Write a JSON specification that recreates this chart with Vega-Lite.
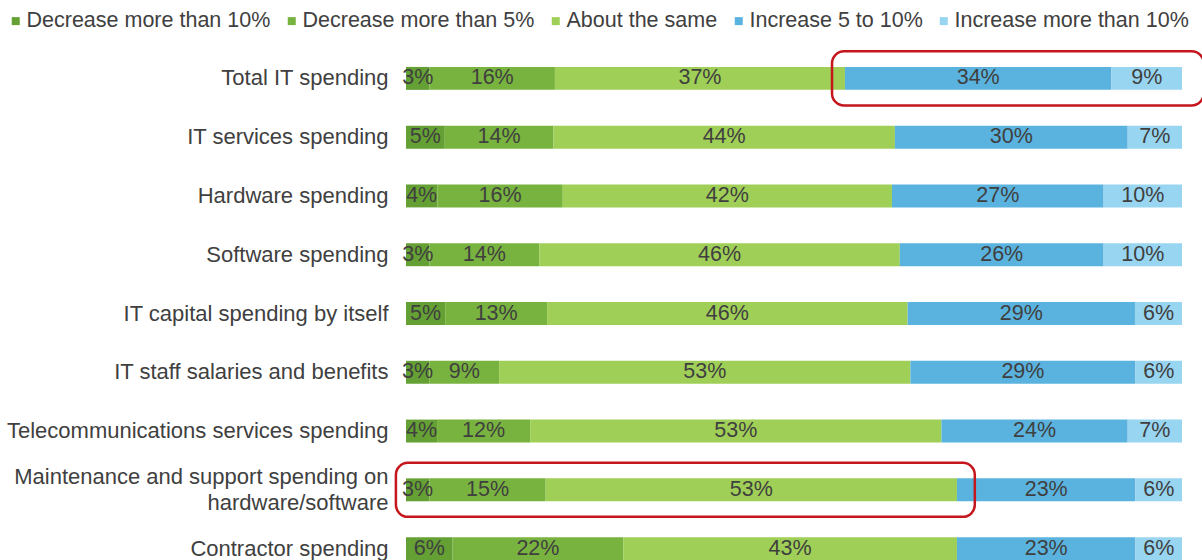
{
  "$schema": "https://vega.github.io/schema/vega-lite/v6.json",
  "width": 776,
  "height": 529,
  "autosize": {"type": "none"},
  "padding": {"left": 406, "top": 49, "right": 20, "bottom": 0},
  "background": "white",
  "config": {"view": {"stroke": null}, "font": "Liberation Sans"},
  "layer": [
    {
      "data": {
        "values": [
          {"c": "Total IT spending", "s": "Decrease more than 10%", "v": 3},
          {"c": "Total IT spending", "s": "Decrease more than 5%", "v": 16},
          {"c": "Total IT spending", "s": "About the same", "v": 37},
          {"c": "Total IT spending", "s": "Increase 5 to 10%", "v": 34},
          {"c": "Total IT spending", "s": "Increase more than 10%", "v": 9},
          {"c": "IT services spending", "s": "Decrease more than 10%", "v": 5},
          {"c": "IT services spending", "s": "Decrease more than 5%", "v": 14},
          {"c": "IT services spending", "s": "About the same", "v": 44},
          {"c": "IT services spending", "s": "Increase 5 to 10%", "v": 30},
          {"c": "IT services spending", "s": "Increase more than 10%", "v": 7},
          {"c": "Hardware spending", "s": "Decrease more than 10%", "v": 4},
          {"c": "Hardware spending", "s": "Decrease more than 5%", "v": 16},
          {"c": "Hardware spending", "s": "About the same", "v": 42},
          {"c": "Hardware spending", "s": "Increase 5 to 10%", "v": 27},
          {"c": "Hardware spending", "s": "Increase more than 10%", "v": 10},
          {"c": "Software spending", "s": "Decrease more than 10%", "v": 3},
          {"c": "Software spending", "s": "Decrease more than 5%", "v": 14},
          {"c": "Software spending", "s": "About the same", "v": 46},
          {"c": "Software spending", "s": "Increase 5 to 10%", "v": 26},
          {"c": "Software spending", "s": "Increase more than 10%", "v": 10},
          {"c": "IT capital spending by itself", "s": "Decrease more than 10%", "v": 5},
          {"c": "IT capital spending by itself", "s": "Decrease more than 5%", "v": 13},
          {"c": "IT capital spending by itself", "s": "About the same", "v": 46},
          {"c": "IT capital spending by itself", "s": "Increase 5 to 10%", "v": 29},
          {"c": "IT capital spending by itself", "s": "Increase more than 10%", "v": 6},
          {"c": "IT staff salaries and benefits", "s": "Decrease more than 10%", "v": 3},
          {"c": "IT staff salaries and benefits", "s": "Decrease more than 5%", "v": 9},
          {"c": "IT staff salaries and benefits", "s": "About the same", "v": 53},
          {"c": "IT staff salaries and benefits", "s": "Increase 5 to 10%", "v": 29},
          {"c": "IT staff salaries and benefits", "s": "Increase more than 10%", "v": 6},
          {"c": "Telecommunications services spending", "s": "Decrease more than 10%", "v": 4},
          {"c": "Telecommunications services spending", "s": "Decrease more than 5%", "v": 12},
          {"c": "Telecommunications services spending", "s": "About the same", "v": 53},
          {"c": "Telecommunications services spending", "s": "Increase 5 to 10%", "v": 24},
          {"c": "Telecommunications services spending", "s": "Increase more than 10%", "v": 7},
          {"c": "Maintenance and support spending on hardware/software", "s": "Decrease more than 10%", "v": 3},
          {"c": "Maintenance and support spending on hardware/software", "s": "Decrease more than 5%", "v": 15},
          {"c": "Maintenance and support spending on hardware/software", "s": "About the same", "v": 53},
          {"c": "Maintenance and support spending on hardware/software", "s": "Increase 5 to 10%", "v": 23},
          {"c": "Maintenance and support spending on hardware/software", "s": "Increase more than 10%", "v": 6},
          {"c": "Contractor spending", "s": "Decrease more than 10%", "v": 6},
          {"c": "Contractor spending", "s": "Decrease more than 5%", "v": 22},
          {"c": "Contractor spending", "s": "About the same", "v": 43},
          {"c": "Contractor spending", "s": "Increase 5 to 10%", "v": 23},
          {"c": "Contractor spending", "s": "Increase more than 10%", "v": 6}
        ]
      },
      "transform": [
        {"calculate": "indexof(['Decrease more than 10%','Decrease more than 5%','About the same','Increase 5 to 10%','Increase more than 10%'], datum.s)", "as": "o"},
        {"stack": "v", "groupby": ["c"], "sort": [{"field": "o", "order": "ascending"}], "offset": "normalize", "as": ["x0", "x1"]},
        {"calculate": "(datum.x0 + datum.x1) / 2", "as": "xm"},
        {"calculate": "datum.v + '%'", "as": "lbl"}
      ],
      "layer": [
        {
          "mark": {"type": "bar", "height": {"band": 0.39}},
          "encoding": {
            "y": {
              "field": "c", "type": "nominal",
              "scale": {"domain": ["Total IT spending", "IT services spending", "Hardware spending", "Software spending", "IT capital spending by itself", "IT staff salaries and benefits", "Telecommunications services spending", "Maintenance and support spending on hardware/software", "Contractor spending"], "paddingInner": 0, "paddingOuter": 0},
              "axis": {
                "title": null, "domain": false, "ticks": false, "labelPadding": 18,
                "labelFontSize": 22, "labelColor": "#404040", "labelLimit": 500, "labelLineHeight": 26,
                "labelOffset": {"condition": {"test": "datum.value == 'Maintenance and support spending on hardware/software'", "value": -13}, "value": 0},
                "labelExpr": "datum.label == 'Maintenance and support spending on hardware/software' ? ['Maintenance and support spending on', 'hardware/software'] : datum.label"
              }
            },
            "x": {"field": "x0", "type": "quantitative", "scale": {"domain": [0, 1]}, "axis": null},
            "x2": {"field": "x1"},
            "color": {
              "field": "s", "type": "nominal",
              "scale": {
                "domain": ["Decrease more than 10%", "Decrease more than 5%", "About the same", "Increase 5 to 10%", "Increase more than 10%"],
                "range": ["#64a033", "#79b33f", "#9fcf57", "#5ab3de", "#98d5f1"]
              },
              "legend": {
                "orient": "none", "legendX": -401, "legendY": -39, "direction": "horizontal", "columns": 5, "padding": 0,
                "title": null, "symbolType": "square", "symbolSize": 64, "symbolStrokeWidth": 0, "labelLimit": 0,
                "labelFontSize": 21.5, "labelColor": "#404040", "labelOffset": 0, "columnPadding": 10
              }
            }
          }
        },
        {
          "mark": {"type": "text", "fontSize": 21.5, "color": "#3f3f3f"},
          "encoding": {
            "y": {"field": "c", "type": "nominal"},
            "x": {"field": "xm", "type": "quantitative"},
            "text": {"field": "lbl"}
          }
        }
      ]
    },
    {
      "data": {
        "values": [
          {"c": "Total IT spending", "b0": 0.549, "b1": 1.028},
          {"c": "Maintenance and support spending on hardware/software", "b0": -0.013, "b1": 0.733}
        ]
      },
      "mark": {"type": "bar", "height": {"band": 0.92}, "fillOpacity": 0, "fill": "white", "stroke": "#c4161c", "strokeWidth": 2.5, "cornerRadius": 12},
      "encoding": {
        "y": {"field": "c", "type": "nominal"},
        "x": {"field": "b0", "type": "quantitative"},
        "x2": {"field": "b1"}
      }
    }
  ]
}
